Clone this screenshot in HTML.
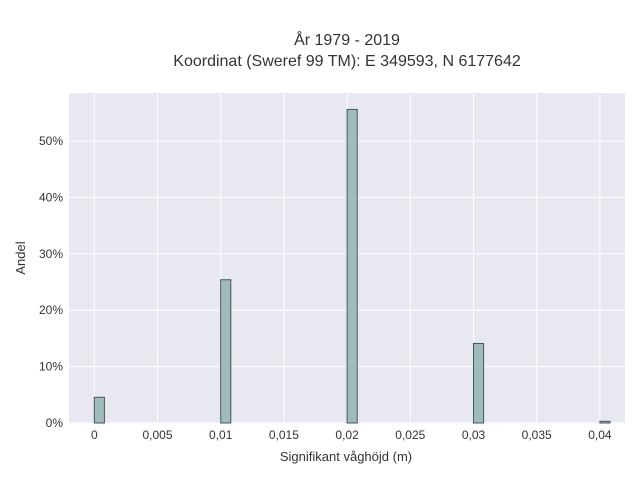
<!DOCTYPE html>
<html><head><meta charset="utf-8"><style>
body{margin:0;background:#fff;font-family:"Liberation Sans",sans-serif;}
svg text{fill:#333;}
</style></head><body>
<svg id="chart" width="640" height="480" xmlns="http://www.w3.org/2000/svg">
<text x="347" y="45" text-anchor="middle" font-size="16">År 1979 - 2019</text>
<text x="347" y="66" text-anchor="middle" font-size="16">Koordinat (Sweref 99 TM): E 349593, N 6177642</text>
<rect x="69" y="93" width="556" height="330" fill="#e8e8f0"/>
<g id="grid"></g>
<g id="bars"></g>
<g id="xt"></g>
<g id="yt"></g>
<text x="346" y="461" text-anchor="middle" font-size="13">Signifikant våghöjd (m)</text>
<text transform="translate(25,258) rotate(-90)" text-anchor="middle" font-size="13">Andel</text>
</svg>
<script>
const binStarts=[0,0.01,0.02,0.03,0.04];
const shares=[4.56,25.4,55.6,14.1,0.3];
const binWidth=0.0008;
const xTicks=[0,0.005,0.01,0.015,0.02,0.025,0.03,0.035,0.04];
const xTickLabels=["0","0,005","0,01","0,015","0,02","0,025","0,03","0,035","0,04"];
const yTicks=[0,10,20,30,40,50];
const yTickLabels=["0%","10%","20%","30%","40%","50%"];
const NS="http://www.w3.org/2000/svg";
const xs=v=>94.3+v*12640;
const ys=v=>423-v*5.64;
function mk(tag,parent,attrs){const e=document.createElementNS(NS,tag);for(const k in attrs)e.setAttribute(k,attrs[k]);document.getElementById(parent).appendChild(e);return e;}
xTicks.forEach((t,i)=>{
 const g=mk('line','grid',{x1:xs(t),x2:xs(t),y1:93,y2:423,stroke:'#fff','stroke-width':1});
 
 
 const l=mk('text','xt',{x:xs(t),y:439,'text-anchor':'middle','font-size':12});
 l.textContent=xTickLabels[i];
 
 
});
yTicks.forEach((t,i)=>{
 const g=mk('line','grid',{x1:69,x2:625,y1:ys(t),y2:ys(t),stroke:'#fff','stroke-width':1});
 
 
 const l=mk('text','yt',{x:63,y:ys(t)+4,'text-anchor':'end','font-size':12});
 l.textContent=yTickLabels[i];
 
 
});
binStarts.forEach((b,i)=>{
 const x0=xs(b),x1=xs(b+binWidth),y=ys(shares[i]);
 const r=mk('rect','bars',{x:x0,y:y,width:x1-x0,height:423-y,fill:'#a0bbbb',stroke:'#4a5656','stroke-width':1});
 
 
});
</script>
</body></html>
